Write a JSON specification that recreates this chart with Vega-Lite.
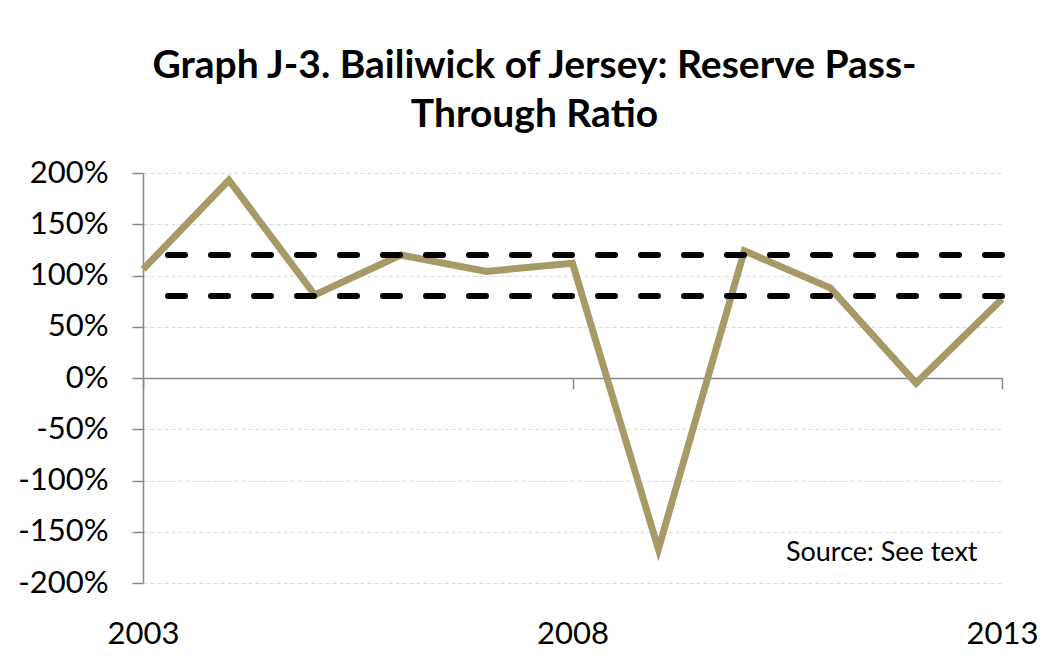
{
  "$schema": "https://vega.github.io/schema/vega-lite/v6.json",
  "width": 859,
  "height": 410,
  "autosize": {"type": "none"},
  "padding": {"left": 143, "top": 173, "right": 46, "bottom": 78},
  "background": "white",
  "config": {"view": {"stroke": null}, "font": "Lato"},
  "title": {
    "text": ["Graph J-3. Bailiwick of Jersey: Reserve Pass-", "Through Ratio"],
    "font": "Lato",
    "fontSize": 39,
    "fontWeight": "bold",
    "color": "black",
    "anchor": "middle",
    "frame": "group",
    "dx": -38,
    "offset": -9,
    "lineHeight": 49,
    "baseline": "alphabetic"
  },
  "datasets": {
    "series": [
      {"year": 2003, "ratio": 106},
      {"year": 2004, "ratio": 193},
      {"year": 2005, "ratio": 81},
      {"year": 2006, "ratio": 120},
      {"year": 2007, "ratio": 104},
      {"year": 2008, "ratio": 112},
      {"year": 2009, "ratio": -167},
      {"year": 2010, "ratio": 124},
      {"year": 2011, "ratio": 88},
      {"year": 2012, "ratio": -5},
      {"year": 2013, "ratio": 77}
    ],
    "bands": [
      {"ratio": 120},
      {"ratio": 80}
    ],
    "note": [
      {"year": 2011.6, "ratio": -171, "label": "Source: See text"}
    ]
  },
  "layer": [
    {
      "data": {"name": "series"},
      "mark": {"type": "line", "color": "#A69B67", "strokeWidth": 7, "strokeJoin": "miter"},
      "encoding": {
        "x": {
          "field": "year",
          "type": "quantitative",
          "scale": {"domain": [2003, 2013], "nice": false, "zero": false},
          "axis": {
            "title": null,
            "values": [2003, 2008, 2013],
            "format": "d",
            "grid": false,
            "offset": -205,
            "domainColor": "#898989",
            "domainWidth": 1.5,
            "tickColor": "#898989",
            "tickWidth": 1.5,
            "tickSize": 11,
            "labelPadding": 230,
            "labelFontSize": 31,
            "labelFont": "Lato",
            "labelColor": "black",
            "labelFlush": false,
            "labelOverlap": false
          }
        },
        "y": {
          "field": "ratio",
          "type": "quantitative",
          "scale": {"domain": [-200, 200], "nice": false},
          "axis": {
            "title": null,
            "values": [-200, -150, -100, -50, 0, 50, 100, 150, 200],
            "labelExpr": "datum.value + '%'",
            "domainColor": "#898989",
            "domainWidth": 1.5,
            "tickColor": "#898989",
            "tickWidth": 1.5,
            "tickSize": 11,
            "labelPadding": 24,
            "labelFontSize": 31,
            "labelFont": "Lato",
            "labelColor": "black",
            "gridColor": "#D9D9D9",
            "gridDash": [4, 3],
            "gridWidth": 1.2
          }
        }
      }
    },
    {
      "data": {"name": "bands"},
      "mark": {"type": "rule", "color": "black", "strokeWidth": 6, "strokeDash": [17, 26], "strokeCap": "round"},
      "encoding": {
        "y": {"field": "ratio", "type": "quantitative"}
      }
    },
    {
      "data": {"name": "note"},
      "mark": {"type": "text", "font": "Lato", "fontSize": 27, "align": "center", "baseline": "middle", "color": "black"},
      "encoding": {
        "x": {"field": "year", "type": "quantitative"},
        "y": {"field": "ratio", "type": "quantitative"},
        "text": {"field": "label"}
      }
    }
  ]
}
